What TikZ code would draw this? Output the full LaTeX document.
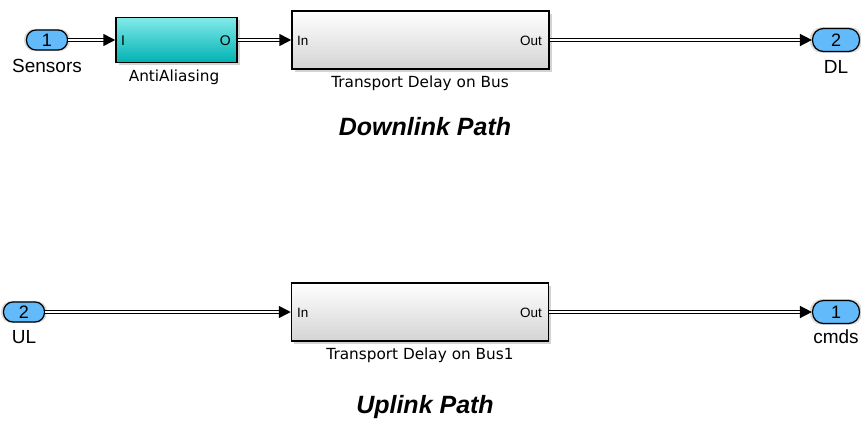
\documentclass[tikz,border=0pt]{standalone}
\usepackage{fontspec}
\newfontfamily\portfont{Liberation Sans}
\newfontfamily\blockfont{DejaVu Sans}
\usetikzlibrary{arrows.meta,shadows}
\definecolor{portblue}{RGB}{98,186,250}
\definecolor{tealtop}{RGB}{130,234,234}
\definecolor{tealbot}{RGB}{0,178,178}
\definecolor{delaybot}{RGB}{212,212,212}
\begin{document}
\begin{tikzpicture}[
    x=1pt,y=-1pt,
    >={Triangle[length=12pt,width=12pt]},
    inport/.style={draw,line width=1.2pt,fill=portblue,rounded corners=9.5pt,minimum width=41pt,minimum height=20pt,inner sep=0pt,
        font=\portfont\fontsize{18}{18}\selectfont,drop shadow={shadow xshift=0pt,shadow yshift=0pt,shadow scale=1.12,opacity=0.3}},
    outport/.style={inport,minimum width=47pt,minimum height=23pt,rounded corners=11pt},
    portlabel/.style={anchor=base,inner sep=0pt,font=\portfont\fontsize{19}{19}\selectfont},
    block/.style={draw,line width=1.5pt,inner sep=0pt,drop shadow={shadow xshift=2.5pt,shadow yshift=-2.5pt,opacity=0.35}},
    delay/.style={block,top color=white,bottom color=delaybot,minimum width=257pt,minimum height=58pt},
    filter/.style={block,top color=tealtop,bottom color=tealbot,minimum width=121pt,minimum height=45pt},
    blocklabel/.style={anchor=base,inner sep=0pt,font=\blockfont\fontsize{15.3}{15.3}\selectfont},
    pinname/.style={inner sep=0pt,font=\portfont\fontsize{13.5}{13.5}\selectfont},
    title/.style={anchor=base,inner sep=0pt,font=\portfont\bfseries\itshape\fontsize{25}{25}\selectfont},
    bus/.style={->,line width=1.5pt,double=white,double distance=1.5pt}
]
\useasboundingbox (0,0) rectangle (861,421);

\node[inport] (sensors) at (47,40) {1};
\node[portlabel] (sensorsname) at (47,72) {Sensors};
\node[filter] (anti) at (176.5,40) {};
\node[pinname,anchor=base west,font=\portfont\fontsize{14}{14}\selectfont] (antiI) at (121,45) {I};
\node[pinname,anchor=base east,font=\portfont\fontsize{14}{14}\selectfont] (antiO) at (231,45) {O};
\node[blocklabel] (antiname) at (174,81) {AntiAliasing};
\node[delay] (tdbus) at (420.5,40) {};
\node[pinname,anchor=base west] (tdbusin) at (297,45) {In};
\node[pinname,anchor=base east] (tdbusout) at (542,45) {Out};
\node[blocklabel] (tdbusname) at (420,87) {Transport Delay on Bus};
\node[outport] (dl) at (836,40) {2};
\node[portlabel] (dlname) at (836,73) {DL};
\node[title] (downtitle) at (425,135) {Downlink Path};

\node[inport] (ul) at (24,312) {2};
\node[portlabel] (ulname) at (24,343) {UL};
\node[delay] (tdbusone) at (420,312) {};
\node[pinname,anchor=base west] (tdbusonein) at (297,317) {In};
\node[pinname,anchor=base east] (tdbusoneout) at (542,317) {Out};
\node[blocklabel] (tdbusonename) at (420,359) {Transport Delay on Bus1};
\node[outport] (cmds) at (836,312) {1};
\node[portlabel] (cmdsname) at (836,343) {cmds};
\node[title] (uptitle) at (425,413) {Uplink Path};

\draw[bus] (sensors)--(anti);
\draw[bus] (anti)--(tdbus);
\draw[bus] (tdbus)--(dl);
\draw[bus] (ul)--(tdbusone);
\draw[bus] (tdbusone)--(cmds);
\end{tikzpicture}
\end{document}
